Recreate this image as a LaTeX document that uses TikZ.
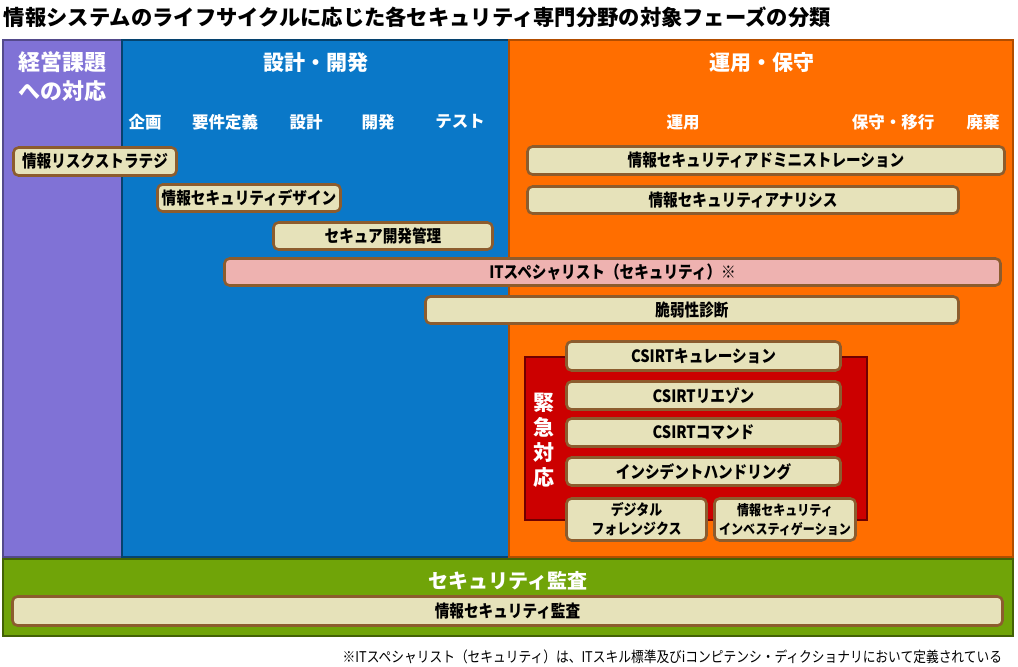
\documentclass[tikz,border=0pt]{standalone}
\usepackage{fontspec}
\setmainfont{Noto Sans CJK JP}
\newfontfamily\cond{Noto Sans CJK JP}[FakeStretch=0.86]
\definecolor{purp}{RGB}{128,114,214}
\definecolor{blu}{RGB}{10,120,200}
\definecolor{org}{RGB}{255,110,0}
\definecolor{grn}{RGB}{112,164,8}
\definecolor{redc}{RGB}{204,0,0}
\definecolor{beige}{RGB}{230,226,186}
\definecolor{pinkc}{RGB}{238,178,176}
\definecolor{brn}{RGB}{140,92,46}
\begin{document}
\begin{tikzpicture}[x=1pt,y=-1pt,
  every node/.style={inner sep=0pt, outer sep=0pt},
  panel/.style={line width=1.3pt},
  bar/.style={draw=brn, line width=2.6pt, fill=beige, rounded corners=5pt,
    font=\cond\fontsize{17}{19}\selectfont\bfseries, text=black, align=center},
  pinkbar/.style={bar, fill=pinkc},
  head/.style={text=white, font=\fontsize{21}{29}\selectfont\bfseries, align=center},
  phase/.style={text=white, font=\fontsize{16.5}{18}\selectfont\bfseries},
  small/.style={bar, font=\cond\fontsize{15}{19}\selectfont\bfseries}
]
\useasboundingbox (0,0) rectangle (1018,667);
\fill[white] (0,0) rectangle (1018,667);

% title
\node[anchor=west, font=\fontsize{21.3}{24}\selectfont\bfseries] (title) at (4,17)
  {情報システムのライフサイクルに応じた各セキュリティ専門分野の対象フェーズの分類};

% panels
\filldraw[panel, fill=purp, draw=purp!65!black] (3,40) rectangle (122,557);
\filldraw[panel, fill=blu, draw=blu!55!black] (122,40) rectangle (509,557);
\filldraw[panel, fill=org, draw=org!70!black] (509,40) rectangle (1013,557);
\filldraw[panel, fill=grn, draw=grn!60!black] (3,559) rectangle (1013,636);
\filldraw[line width=1.6pt, fill=redc, draw=redc!55!black] (525,357) rectangle (867,520);

% headers
\node[head, font=\fontsize{22}{29}\selectfont\bfseries] (h1) at (63,77) {経営課題\\への対応};
\node[head] (h2) at (316,63) {設計・開発};
\node[head] (h3) at (762,63) {運用・保守};

% phases
\node[phase] (p1) at (145,122) {企画};
\node[phase] (p2) at (225,122) {要件定義};
\node[phase] (p3) at (306,122) {設計};
\node[phase] (p4) at (378,122) {開発};
\node[phase] (p5) at (460,122) {テスト};
\node[phase] (p6) at (683,122) {運用};
\node[phase] (p7) at (893,122) {保守・移行};
\node[phase] (p8) at (983,122) {廃棄};

% bars
\node[bar, minimum width=163, minimum height=28] (risk) at (95,161.5) {情報リスクストラテジ};
\node[bar, minimum width=183, minimum height=27] (design) at (249,198) {情報セキュリティデザイン};
\node[bar, minimum width=219, minimum height=27] (secdev) at (383,236) {セキュア開発管理};
\node[pinkbar, minimum width=776, minimum height=27] (itspec) at (612.5,272) {ITスペシャリスト（セキュリティ）※};
\node[bar, minimum width=533, minimum height=27] (vuln) at (692,310) {脆弱性診断};
\node[bar, minimum width=477, minimum height=28] (admin) at (766,160.5) {情報セキュリティアドミニストレーション};
\node[bar, minimum width=431, minimum height=27] (anal) at (743,200) {情報セキュリティアナリシス};

% emergency
\node[text=white, font=\fontsize{21}{25}\selectfont\bfseries, align=center] (emg) at (544,440) {緊\\急\\対\\応};
\node[bar, minimum width=274, minimum height=29] (cur) at (703.5,356) {CSIRTキュレーション};
\node[bar, minimum width=274, minimum height=28] (lia) at (703.5,395.5) {CSIRTリエゾン};
\node[bar, minimum width=274, minimum height=28] (cmd) at (703.5,432.5) {CSIRTコマンド};
\node[bar, minimum width=274, minimum height=28] (inc) at (703.5,471.5) {インシデントハンドリング};
\node[small, minimum width=140, minimum height=42] (for) at (636.5,519.5) {デジタル\\フォレンジクス};
\node[small, minimum width=141, minimum height=42, font=\cond\fontsize{14}{19}\selectfont\bfseries] (inv) at (785,519.5) {情報セキュリティ\\インベスティゲーション};

% audit
\node[head, font=\fontsize{20}{24}\selectfont\bfseries] (audh) at (508,581) {セキュリティ監査};
\node[bar, minimum width=990, minimum height=29] (aud) at (507.5,611) {情報セキュリティ監査};

% footnote
\node[anchor=east, font=\cond\fontsize{14.8}{16}\selectfont] (note) at (1002,657)
  {※ITスペシャリスト（セキュリティ）は、ITスキル標準及びiコンピテンシ・ディクショナリにおいて定義されている};
\end{tikzpicture}
\end{document}
